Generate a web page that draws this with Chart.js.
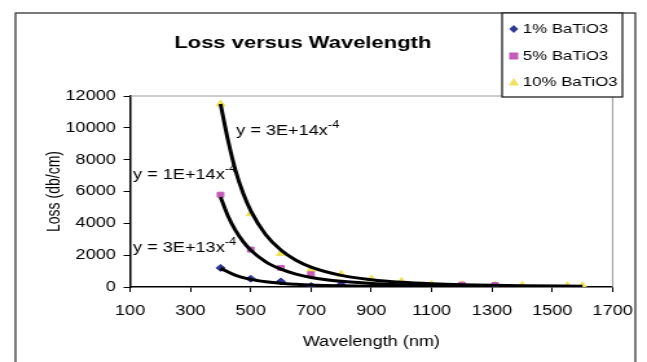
<!DOCTYPE html>
<html>
<head>
<meta charset="UTF-8">
<title>Loss versus Wavelength</title>
<script src="https://cdn.jsdelivr.net/npm/chart.js@4.4.0/dist/chart.umd.min.js"></script>
<style>
  body { margin: 0; background: #fff; }
</style>
</head>
<body>
<!-- drawn narrow then stretched sideways, like the original picture -->
<canvas id="lossChart" width="500" height="362" style="display:block;width:647px;height:362px"></canvas>
<script>
const seriesNames = ['1% BaTiO3', '5% BaTiO3', '10% BaTiO3'];
const blueX = [400, 500, 600, 700, 800, 1000];
const blueY = [1200, 520, 350, 60, 130, -60];
const pinkX = [400, 500, 600, 700, 800, 1200, 1310];
const pinkY = [5800, 2350, 1200, 800, 250, 150, 120];
const yellowX = [400, 500, 600, 700, 800, 900, 1000, 1100, 1200, 1310, 1400, 1550, 1600];
const yellowY = [11500, 4600, 2100, 1100, 800, 500, 350, 150, 150, 120, 100, 80, 80];

// power trendlines
const trendBlueX = [400, 450, 500, 550, 600, 650, 700, 800, 900, 1000, 1100];
const trendBlueY = [1170, 730, 480, 330, 230, 170, 125, 75, 45, 30, 20];
const trendPinkX = [400, 425, 450, 475, 500, 550, 600, 650, 700, 800, 900, 1000, 1100, 1200, 1300];
const trendPinkY = [5650, 4450, 3540, 2850, 2320, 1580, 1120, 810, 600, 355, 220, 145, 100, 70, 50];
const trendYellowX = [400, 425, 450, 475, 500, 550, 600, 650, 700, 800, 900, 1000, 1100, 1200, 1400, 1600];
const trendYellowY = [11500, 9200, 7300, 5890, 4800, 3280, 2320, 1680, 1250, 730, 460, 300, 205, 145, 80, 45];

const equations = ['y = 3E+13x', 'y = 1E+14x', 'y = 3E+14x'];
const eqAnchorX = [110, 110, 452];
const eqAnchorY = [2450, 7040, 9800];

// axis ticks
const xMin = 100, xMax = 1700, xStep = 200;
const yMin = 0, yMax = 12000, yStep = 2000;

const colors = ['#2f3a96', '#c35cb8', '#efe25c'];
const styles = ['rectRot', 'rect', 'triangle'];

function pts(xs, ys) { return xs.map((x, i) => ({x: x, y: ys[i]})); }

Chart.defaults.font.family = "'Liberation Sans', Arial, sans-serif";
Chart.defaults.color = '#000';

function trend(xs, ys) {
    return {
        type: 'line', isTrend: true, data: pts(xs, ys),
        borderColor: '#000', borderWidth: 3, pointRadius: 0,
        cubicInterpolationMode: 'monotone', fill: false, order: 0
    };
}
function marks(i, xs, ys) {
    return {
        type: 'scatter', label: seriesNames[i], data: pts(xs, ys),
        pointStyle: styles[i], pointRadius: i == 2 ? 4 : 3.5,
        backgroundColor: colors[i], borderColor: colors[i], borderWidth: 1, order: 1
    };
}

// title, legend box, equations, frames
const deco = {
    id: 'deco',
    beforeDraw(chart) {
        const c = chart.ctx;
        c.save();
        c.fillStyle = '#fff';
        c.fillRect(0, 0, chart.width, chart.height);
        c.restore();
    },
    afterDraw(chart) {
        const c = chart.ctx, a = chart.chartArea;
        const sx = chart.scales.x, sy = chart.scales.y;
        c.save();
        // plot frame top/right
        c.strokeStyle = '#9a9a9a';
        c.lineWidth = 1;
        c.beginPath();
        c.moveTo(a.left, a.top); c.lineTo(a.right, a.top); c.lineTo(a.right, a.bottom);
        c.stroke();
        // outer border
        c.strokeStyle = '#333';
        c.lineWidth = 1.3;
        c.strokeRect(12, 13, 479, 420);
        // title
        c.fillStyle = '#000';
        c.font = "bold 17px 'Liberation Sans', Arial, sans-serif";
        c.textAlign = 'center';
        c.textBaseline = 'middle';
        c.fillText('Loss versus Wavelength', 234, 43);
        // equations
        c.textAlign = 'left';
        equations.forEach((t, i) => {
            const px = sx.getPixelForValue(eqAnchorX[i]);
            const py = sy.getPixelForValue(eqAnchorY[i]);
            c.font = "14px 'Liberation Sans', Arial, sans-serif";
            c.fillText(t, px, py);
            const w = c.measureText(t).width;
            c.font = "10px 'Liberation Sans', Arial, sans-serif";
            c.fillText('-4', px + w, py - 6);
        });
        // legend
        c.fillStyle = '#fff';
        c.fillRect(388, 13, 93, 84);
        c.strokeStyle = '#222';
        c.lineWidth = 1.3;
        c.strokeRect(388, 13, 93, 84);
        const rows = [29, 56, 82];
        chart.data.datasets.filter(d => !d.isTrend).forEach((d, i) => {
            const mx = 397, my = rows[i];
            c.fillStyle = d.backgroundColor;
            c.beginPath();
            if (d.pointStyle == 'rectRot') {
                c.moveTo(mx, my - 4); c.lineTo(mx + 3.5, my); c.lineTo(mx, my + 4); c.lineTo(mx - 3.5, my);
            } else if (d.pointStyle == 'rect') {
                c.rect(mx - 3.5, my - 3.5, 7, 7);
            } else {
                c.moveTo(mx, my - 4); c.lineTo(mx + 4, my + 3.5); c.lineTo(mx - 4, my + 3.5);
            }
            c.closePath();
            c.fill();
            c.fillStyle = '#000';
            c.font = "13px 'Liberation Sans', Arial, sans-serif";
            c.textAlign = 'left';
            c.fillText(d.label, 404, my);
        });
        c.restore();
    }
};

new Chart(document.getElementById('lossChart'), {
    type: 'scatter',
    data: {
        datasets: [
            trend(trendBlueX, trendBlueY),
            trend(trendPinkX, trendPinkY),
            trend(trendYellowX, trendYellowY),
            marks(0, blueX, blueY),
            marks(1, pinkX, pinkY),
            marks(2, yellowX, yellowY)
        ]
    },
    options: {
        responsive: false,
        animation: false,
        devicePixelRatio: 1,
        layout: { padding: { left: 30, top: 96, right: 20, bottom: 7 } },
        plugins: {
            legend: { display: false },
            title: { display: false },
            tooltip: { enabled: false }
        },
        scales: {
            x: {
                type: 'linear', min: xMin, max: xMax,
                ticks: { stepSize: xStep, font: { size: 14 }, padding: 11, color: '#000',
                         callback: v => String(v) },
                grid: { drawOnChartArea: false, color: '#000', tickLength: 5 },
                border: { color: '#000', width: 1.5 },
                title: { display: true, text: 'Wavelength (nm)', font: { size: 14 }, color: '#000', padding: { top: 4, bottom: 4 } },
                afterFit(s) { s.height = 362 - 7 - 287; }
            },
            y: {
                type: 'linear', min: yMin, max: yMax,
                ticks: { stepSize: yStep, font: { size: 14 }, padding: 6, color: '#000',
                         callback: v => String(v) },
                grid: { drawOnChartArea: false, color: '#000', tickLength: 5 },
                border: { color: '#000', width: 1.5 },
                title: { display: true, text: 'Loss (db/cm)', font: { size: 14 }, color: '#000', padding: { top: 4, bottom: 4 } },
                afterFit(s) { s.width = 70.5; }
            }
        }
    },
    plugins: [deco]
});
</script>
</body>
</html>
